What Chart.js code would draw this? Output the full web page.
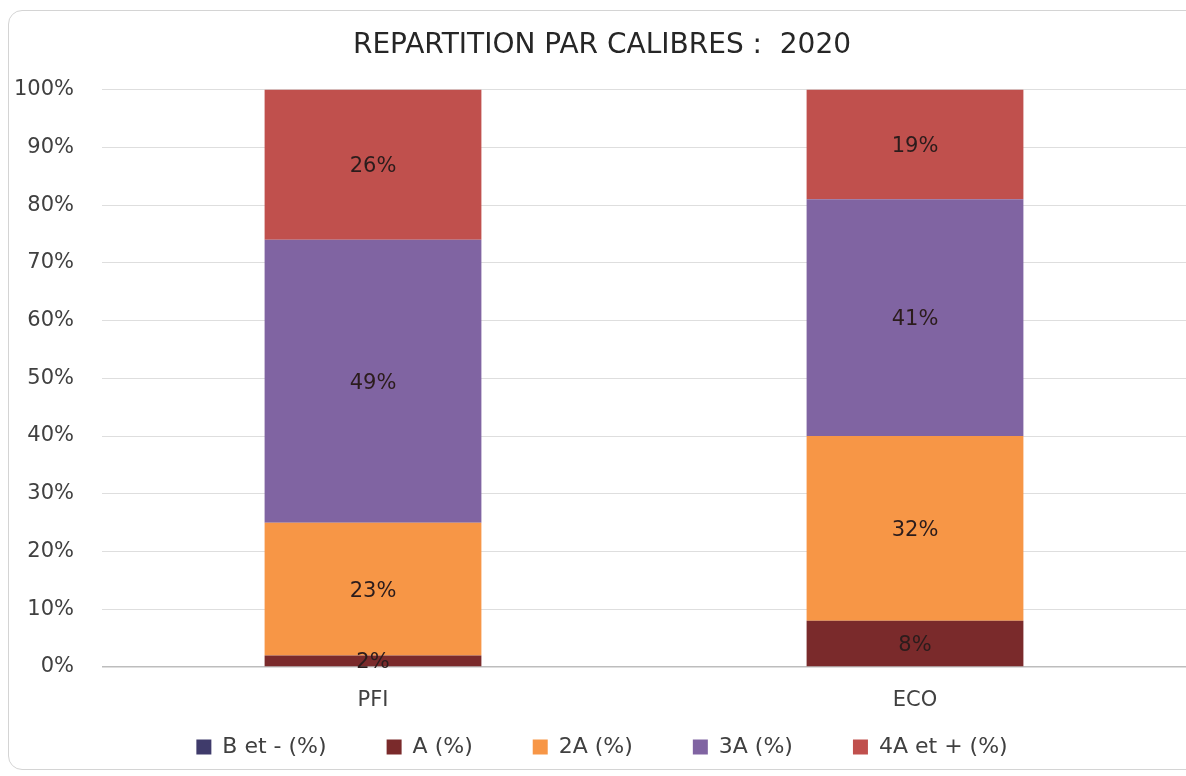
<!DOCTYPE html>
<html lang="fr">
<head>
<meta charset="utf-8">
<title>Répartition par calibres 2020</title>
<script src="https://cdn.jsdelivr.net/npm/chart.js@4.4.1/dist/chart.umd.min.js"></script>
<style>
  html, body { margin: 0; padding: 0; background: #fff; overflow: hidden; }
  #wrap { position: relative; width: 1186px; height: 776px; }
  #frame {
    position: absolute; left: 8px; top: 10px; width: 1200px; height: 760px;
    border: 1px solid #d4d4d4; border-radius: 14px; box-sizing: border-box;
  }
  #chart { position: absolute; left: 0; top: 0; }
</style>
</head>
<body>
<div id="wrap">
  <div id="frame"></div>
  <canvas id="chart" width="1186" height="776"></canvas>
</div>
<script>
const categories = ['PFI', 'ECO'];
const seriesNames = ['B et - (%)', 'A (%)', '2A (%)', '3A (%)', '4A et + (%)'];
const bEtMoins = [0, 0];
const calA = [2, 8];
const cal2A = [23, 32];
const cal3A = [49, 41];
const cal4AEtPlus = [26, 19];
const yTicks = [0, 10, 20, 30, 40, 50, 60, 70, 80, 90, 100];

const colors = ['#3f3b6b', '#7a2a2b', '#f79646', '#8064a2', '#c0504d'];
const FONT = '"DejaVu Sans", sans-serif';

// centred percentage inside each segment
const segmentLabels = {
  id: 'segmentLabels',
  afterDatasetsDraw(chart) {
    const ctx = chart.ctx;
    ctx.save();
    ctx.font = '21px ' + FONT;
    ctx.fillStyle = '#2b1c1c';
    ctx.textAlign = 'center';
    ctx.textBaseline = 'middle';
    chart.data.datasets.forEach((ds, i) => {
      const meta = chart.getDatasetMeta(i);
      meta.data.forEach((bar, j) => {
        const v = ds.data[j];
        if (!v) return;
        const { x, y, base } = bar.getProps(['x', 'y', 'base'], true);
        ctx.fillText(v + '%', x, (y + base) / 2 + 2);
      });
    });
    ctx.restore();
  }
};

const data = {
  labels: categories,
  datasets: [bEtMoins, calA, cal2A, cal3A, cal4AEtPlus].map((vals, i) => ({
    label: seriesNames[i],
    data: vals,
    backgroundColor: colors[i],
    borderWidth: 0,
    barPercentage: 0.4,
    categoryPercentage: 1
  }))
};

new Chart(document.getElementById('chart'), {
  type: 'bar',
  data,
  plugins: [segmentLabels],
  options: {
    responsive: false,
    animation: false,
    layout: { padding: { left: 8, right: -10, top: 0, bottom: 8 } },
    plugins: {
      tooltip: { enabled: false },
      title: {
        display: true,
        text: 'REPARTITION PAR CALIBRES :  2020',
        color: '#262626',
        font: { family: FONT, size: 28, weight: 'normal' },
        padding: { top: 29, bottom: 27 }
      },
      legend: {
        position: 'bottom',
        labels: {
          color: '#404040',
          font: { family: FONT, size: 22 },
          boxWidth: 15,
          boxHeight: 15,
          padding: 60
        }
      }
    },
    scales: {
      x: {
        stacked: true,
        grid: { display: false, drawTicks: false },
        border: { display: false },
        ticks: { color: '#404040', font: { family: FONT, size: 21 }, padding: 21 },
        afterFit(scale) {
          // thin axis box; the labels sit below it, over the legend padding
          scale.height = 9;
          scale._computeLabelArea = () => undefined;
        }
      },
      y: {
        stacked: true,
        min: 0,
        max: 100,
        afterBuildTicks(scale) { scale.ticks = yTicks.map(v => ({ value: v })); },
        afterFit(scale) { scale.width = 94; },
        grid: {
          drawTicks: false,
          color: (c) => c.tick && c.tick.value === 0 ? '#bdbdbd' : '#dedede',
          lineWidth: (c) => c.tick && c.tick.value === 0 ? 1.5 : 1
        },
        border: { display: false },
        ticks: {
          color: '#404040',
          font: { family: FONT, size: 21 },
          padding: 28,
          callback: (v) => v + '%'
        }
      }
    }
  }
});
</script>
</body>
</html>
